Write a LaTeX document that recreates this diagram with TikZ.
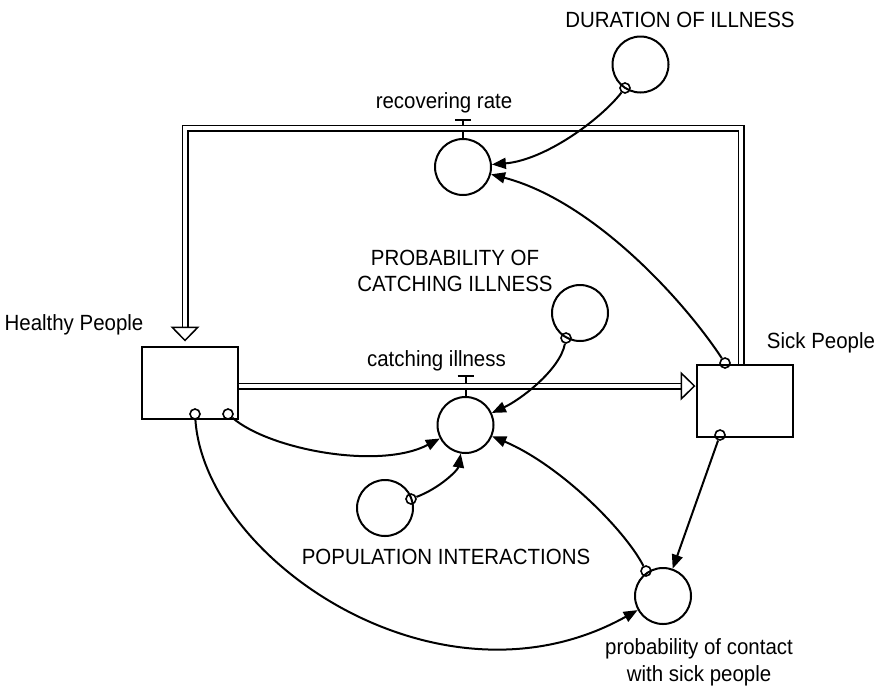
\documentclass[tikz,border=0pt]{standalone}
\usepackage{fontspec}
\setmainfont[FakeStretch=0.93]{Liberation Sans}
\usetikzlibrary{arrows.meta}

\begin{document}
\begin{tikzpicture}[x=1pt,y=-1pt,
	stock/.style={draw, line width=2pt, minimum width=96pt, minimum height=72pt, inner sep=0pt},
	aux/.style={draw, circle, line width=2pt, minimum size=56pt, inner sep=0pt},
	tail/.style={draw, circle, line width=1.6pt, minimum size=10pt, inner sep=0pt},
	lbl/.style={font=\fontsize{22}{26.7}\selectfont, inner sep=0pt},
	pipe/.style={draw, double, double distance=4pt, line width=1.5pt},
	pipehead/.style={line width=1.5pt, -{Triangle[open, length=15pt, width=29pt]}},
	link/.style={line width=2pt, -{Triangle[length=14pt, width=11pt]}},
	valve/.style={line width=2pt}]

	\useasboundingbox (0,0) rectangle (877,686);

	\node[stock] (hp) at (189.5,382.5) {};
	\node[stock] (sp) at (744.5,401) {};

	\node[aux] (rr) at (463,167) {};
	\node[aux] (ci) at (465.5,425) {};
	\node[aux] (dur) at (640.5,64.5) {};
	\node[aux] (pci) at (580,313) {};
	\node[aux] (pi) at (385,508) {};
	\node[aux] (pc) at (663,596) {};

	\draw[valve] (rr.north) -- ++(0,-18) coordinate (rrt);
	\draw[valve] ([xshift=-8pt]rrt) -- ([xshift=8pt]rrt);
	\draw[valve] (ci.north) -- ++(0,-20) coordinate (cit);
	\draw[valve] ([xshift=-8pt]cit) -- ([xshift=8pt]cit);

	\draw[pipe] ([xshift=-3.5pt]sp.north) -- ++(0,-236) -| ([xshift=-4.5pt,yshift=19pt]hp.north) coordinate (rb);
	\draw[pipehead] (rb) -- ([xshift=-4.5pt,yshift=4pt]hp.north);

	\coordinate (cs) at ([yshift=-3.5pt]hp.east);
	\coordinate (ct) at (sp.west |- cs);
	\draw[pipe] (cs) -- ([xshift=-15pt]ct) coordinate (cb);
	\draw[pipehead] (cb) -- (ct);

	\node[tail] (hpa) at (195,414) {};
	\node[tail] (hpb) at (228,414) {};
	\node[tail] (spa) at (725,363) {};
	\node[tail] (spb) at (720,435) {};
	\node[tail] (dura) at (625,88) {};
	\node[tail] (pcia) at (566,338) {};
	\node[tail] (pia) at (411,499) {};
	\node[tail] (pca) at (646,571) {};

	\draw[link] (dura) .. controls (600,120) and (545,160) .. (rr);
	\draw[link] (spa) .. controls (680,295) and (590,200) .. (rr);
	\draw[link] (pcia) .. controls (560,370) and (520,400) .. (ci);
	\draw[link] (hpb) .. controls (270,450) and (380,470) .. (ci);
	\draw[link] (pia) .. controls (440,488) and (458,470) .. (ci);
	\draw[link] (pca) .. controls (625,530) and (560,465) .. (ci);
	\draw[link] (spb) -- (pc);
	\draw[link] (hpa) .. controls (205,560) and (440,720) .. (pc);

	\node[lbl, anchor=base] (hpl) at (74,330) {Healthy People};
	\node[lbl, anchor=base] (spl) at (821,348) {Sick People};
	\node[lbl, anchor=base] (rrl) at (444,108) {recovering rate};
	\node[lbl, anchor=base] (cil) at (436.5,366) {catching illness};
	\node[lbl, anchor=base] (durl) at (680,27) {DURATION OF ILLNESS};
	\node[lbl, align=center] (pcil) at (455,271) {PROBABILITY OF\\CATCHING ILLNESS};
	\node[lbl, anchor=base] (pil) at (446,564) {POPULATION INTERACTIONS};
	\node[lbl, align=center] (pcl) at (699,662) {probability of contact\\with sick people};
\end{tikzpicture}
\end{document}
